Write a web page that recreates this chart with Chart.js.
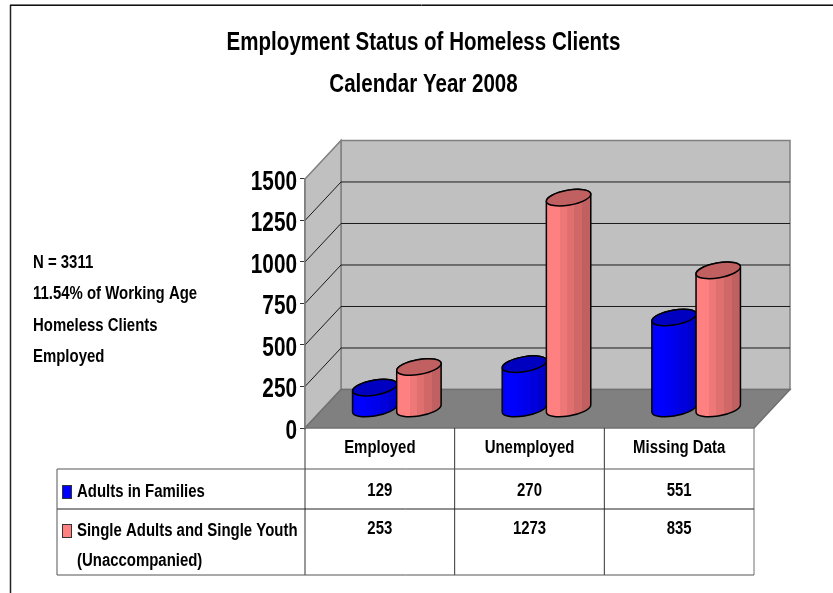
<!DOCTYPE html>
<html>
<head>
<meta charset="utf-8">
<style>
  html, body { margin: 0; padding: 0; background: #fff; overflow: hidden; }
  canvas { display: block; }
</style>
<script src="https://cdn.jsdelivr.net/npm/chart.js@4"></script>
</head>
<body>
<canvas id="chartStatus" width="833" height="593"></canvas>
<script>
const categories = ["Employed", "Unemployed", "Missing Data"];
const adultsInFamilies = [129, 270, 551];
const singleAdults = [253, 1273, 835];
const seriesLabels = ["Adults in Families", "Single Adults and Single Youth"];
const seriesSubLabel = "(Unaccompanied)";
const titleLines = ["Employment Status of Homeless Clients", "Calendar Year 2008"];
const noteLines = ["N = 3311", "11.54% of Working Age", "Homeless Clients", "Employed"];

const fontFamily = "'Liberation Sans', Arial, sans-serif";
const depthX = 36, depthY = 38.5;
const barShiftX = 17, barShiftY = 19;

const chartCtx = document.getElementById("chartStatus").getContext("2d");

// no narrow font installed, so every text is squeezed around its anchor
const squeeze = { 26: 0.79, 27: 0.77, 18: 0.83 };
const plainFillText = chartCtx.fillText.bind(chartCtx);
chartCtx.fillText = function (text, x, y) {
    const size = /(\d+)px/.exec(chartCtx.font)[1];
    chartCtx.save();
    chartCtx.translate(x, y);
    chartCtx.scale(squeeze[size] || 1, 1);
    plainFillText(text, 0, 0);
    chartCtx.restore();
};

function line(ctx, x1, y1, x2, y2, color, width) {
    ctx.strokeStyle = color;
    ctx.lineWidth = width || 1;
    ctx.beginPath();
    ctx.moveTo(x1, y1);
    ctx.lineTo(x2, y2);
    ctx.stroke();
}

function poly(ctx, pts, fill, stroke) {
    ctx.beginPath();
    pts.forEach((p, i) => i ? ctx.lineTo(p[0], p[1]) : ctx.moveTo(p[0], p[1]));
    ctx.closePath();
    ctx.fillStyle = fill;
    ctx.fill();
    ctx.strokeStyle = stroke;
    ctx.lineWidth = 1.5;
    ctx.stroke();
}

// walls and floor, placed from the scale so gridlines follow the values
function drawRoom(chart) {
    const ctx = chart.ctx, y = chart.scales.y, x = chart.scales.x;
    const l = x.left, r = x.right, top = y.getPixelForValue(1500), bot = y.getPixelForValue(0);

    poly(ctx, [[l + depthX, top - depthY], [r + depthX, top - depthY], [r + depthX, bot - depthY], [l + depthX, bot - depthY]], "#c0c0c0", "#808080");
    poly(ctx, [[l, top], [l + depthX, top - depthY], [l + depthX, bot - depthY], [l, bot]], "#c0c0c0", "#808080");
    poly(ctx, [[l, bot], [r, bot], [r + depthX, bot - depthY], [l + depthX, bot - depthY]], "#808080", "#707070");

    y.ticks.forEach(t => {
        if (t.value === 0 || t.value === 1500) return;
        const py = y.getPixelForValue(t.value);
        line(ctx, l, py, l + depthX, py - depthY, "#1a1a1a");
        line(ctx, l + depthX, py - depthY, r + depthX, py - depthY, "#1a1a1a");
    });
}

function drawCylinder(ctx, bar, shades) {
    const a = bar.width * 0.51, b = bar.width * 0.168, rot = -10 * Math.PI / 180;
    const cx = bar.x + barShiftX, topY = bar.y - barShiftY, baseY = bar.base - barShiftY;
    const t0 = Math.atan(-(b / a) * Math.tan(rot));

    // facets of the round side, hard colour steps like the original
    const grad = ctx.createLinearGradient(cx - a, 0, cx + a, 0);
    const edges = [0, 0.3, 0.46, 0.62, 0.8, 1];
    shades.bands.forEach((c, i) => {
        grad.addColorStop(edges[i], c);
        grad.addColorStop(edges[i + 1], c);
    });

    ctx.strokeStyle = "#000";
    ctx.lineWidth = 1.5;
    ctx.beginPath();
    ctx.ellipse(cx, baseY, a, b, rot, t0, t0 + Math.PI);
    ctx.ellipse(cx, topY, a, b, rot, t0 + Math.PI, t0 + 2 * Math.PI);
    ctx.closePath();
    ctx.fillStyle = grad;
    ctx.fill();
    ctx.stroke();

    ctx.beginPath();
    ctx.ellipse(cx, topY, a, b, rot, 0, 2 * Math.PI);
    ctx.fillStyle = shades.cap;
    ctx.fill();
    ctx.stroke();
}

function drawTable(chart) {
    const ctx = chart.ctx, x = chart.scales.x;
    const top = chart.scales.y.bottom, r1 = 469, r2 = 509, end = 575, keyLeft = 57;
    const cellW = x.width / categories.length;

    // grid of the data table
    line(ctx, x.left, top, x.left, end, "#333");
    for (let i = 1; i <= categories.length; i++) {
        line(ctx, x.left + i * cellW, top, x.left + i * cellW, end, i === categories.length ? "#707070" : "#333");
    }
    line(ctx, keyLeft, r1, x.right, r1, "#555");
    line(ctx, keyLeft, r2, x.right, r2, "#222");
    line(ctx, keyLeft, end, x.right, end, "#555");
    line(ctx, keyLeft, r1, keyLeft, end, "#555");

    ctx.fillStyle = "#000";
    ctx.font = "bold 18px " + fontFamily;
    ctx.textBaseline = "middle";
    ctx.textAlign = "center";
    categories.forEach((c, i) => {
        ctx.fillText(adultsInFamilies[i], x.getPixelForValue(i), 491);
        ctx.fillText(singleAdults[i], x.getPixelForValue(i), 529);
    });

    ctx.textAlign = "left";
    ctx.fillText(seriesLabels[0], 77, 492);
    ctx.fillText(seriesLabels[1], 77, 531);
    ctx.fillText(seriesSubLabel, 77, 561);

    ctx.lineWidth = 1;
    ctx.strokeStyle = "#333";
    ctx.fillStyle = "#0000ff";
    ctx.fillRect(62.5, 485.5, 9, 13);
    ctx.strokeRect(62.5, 485.5, 9, 13);
    ctx.fillStyle = "#ff8080";
    ctx.fillRect(62.5, 524.5, 9, 13);
    ctx.strokeRect(62.5, 524.5, 9, 13);
}

const cylinderPlugin = {
    id: "cylinders",
    beforeDraw(chart) {
        const ctx = chart.ctx;
        ctx.save();
        line(ctx, 10.5, 5, 10.5, 593, "#222", 1.5);
        line(ctx, 10, 4.5, 833, 4.5, "#777");
        line(ctx, 10, 5.5, 833, 5.5, "#111");
        drawRoom(chart);
        ctx.restore();
    },
    // the library's flat bars are replaced, geometry comes from its bar elements
    beforeDatasetsDraw(chart) {
        const ctx = chart.ctx;
        ctx.save();
        chart.data.datasets.forEach((ds, i) => {
            chart.getDatasetMeta(i).data.forEach(bar => drawCylinder(ctx, bar, ds.shades));
        });
        ctx.restore();
        return false;
    },
    afterDraw(chart) {
        const ctx = chart.ctx;
        ctx.save();
        drawTable(chart);
        ctx.fillStyle = "#000";
        ctx.font = "bold 18px " + fontFamily;
        ctx.textAlign = "left";
        ctx.textBaseline = "middle";
        [263, 294, 326, 357].forEach((py, i) => ctx.fillText(noteLines[i], 33, py));
        ctx.restore();
    }
};

new Chart(chartCtx, {
    type: "bar",
    data: {
        labels: categories,
        datasets: [
            {
                label: seriesLabels[0],
                data: adultsInFamilies,
                backgroundColor: "#0000ff",
                shades: { bands: ["#0000ff", "#0000f4", "#0000ea", "#0000dc", "#0000cc"], cap: "#0000c0" }
            },
            {
                label: seriesLabels[1],
                data: singleAdults,
                backgroundColor: "#ff8080",
                shades: { bands: ["#ff8080", "#ee7878", "#e07070", "#d06868", "#c06060"], cap: "#c06060" }
            }
        ]
    },
    plugins: [cylinderPlugin],
    options: {
        responsive: false,
        animation: false,
        layout: { padding: { left: 14 } },
        datasets: { bar: { barPercentage: 1, categoryPercentage: 0.59 } },
        plugins: {
            legend: { display: false },
            tooltip: { enabled: false },
            title: {
                display: true,
                text: titleLines,
                color: "#000",
                font: { family: fontFamily, size: 26, weight: "bold", lineHeight: 1.615 },
                padding: { top: 22, bottom: 73 }
            }
        },
        scales: {
            x: {
                grid: { display: false },
                border: { display: false },
                afterFit(s) { s.height = 165; },
                ticks: { color: "#000", padding: 1, maxRotation: 0, font: { family: fontFamily, size: 18, weight: "bold" } }
            },
            y: {
                min: 0,
                max: 1500,
                afterFit(s) { s.width = 291; },
                border: { color: "#808080", width: 1.5 },
                grid: { drawOnChartArea: false, drawTicks: true, tickLength: 5, color: "#333" },
                ticks: {
                    stepSize: 250,
                    color: "#000",
                    padding: 3,
                    labelOffset: 3.5,
                    callback: v => String(v),
                    font: { family: fontFamily, size: 27, weight: "bold" }
                }
            },
            y2: {
                position: "right",
                grid: { display: false },
                border: { display: false },
                ticks: { display: false },
                afterFit(s) { s.width = 79; }
            }
        }
    }
});
</script>
</body>
</html>
